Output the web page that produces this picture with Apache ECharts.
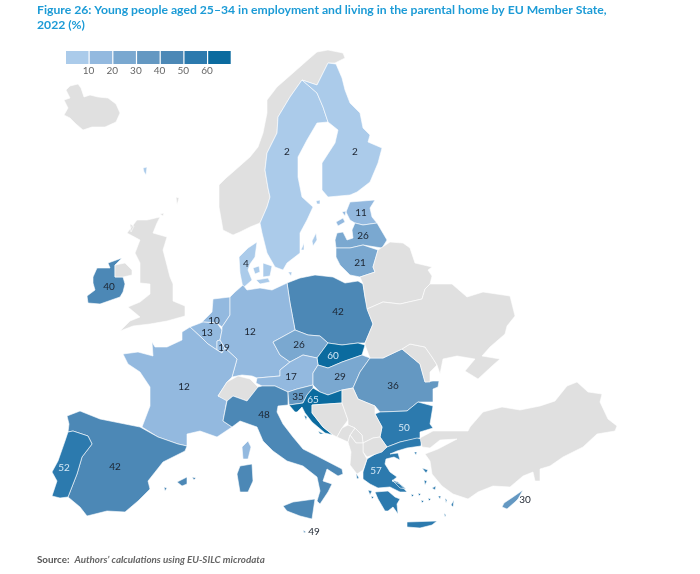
<!DOCTYPE html>
<html><head><meta charset="utf-8">
<style>html,body{margin:0;padding:0;background:#fff}#c{width:700px;height:574px}</style>
<script src="https://cdn.jsdelivr.net/npm/echarts@6/dist/echarts.min.js"></script>
</head><body><div id="c"></div>
<script>
const countries = ['Sweden','Finland','Estonia','Latvia','Lithuania','Denmark','Ireland','Poland','Netherlands','Belgium','Luxembourg','Germany','Czechia','Slovakia','Austria','Hungary','Slovenia','Croatia','Italy','France','Spain','Portugal','Romania','Bulgaria','Greece','Cyprus','Malta'];
const shares = [2,2,11,26,21,4,40,42,10,13,19,12,26,60,17,29,35,65,48,12,42,52,36,50,57,30,49];
const scaleBounds = [0,10,20,30,40,50,60,70];
const scaleColors = ['#abcbea','#93b9df','#7aa8d0','#6498c2','#4c88b6','#2c7aae','#0b6b9f'];
const tickLabels = ['10','20','30','40','50','60'];
const titleText = 'Figure 26: Young people aged 25–34 in employment and living in the parental home by EU Member State,\n2022 (%)';
const sourceLead = 'Source:';
const sourceBody = 'Authors’ calculations using EU-SILC microdata';

// Outline geometry of the base map, in map units. [label anchor, rings...]
const outlines = {
 Iceland:[null,[[66,90],[70,86],[78,84],[81,88],[84,97],[90,95],[98,97],[108,98],[116,104],[120,113],[116,122],[105,127],[92,127],[83,130],[76,124],[70,118],[64,115],[68,108],[64,100],[70,98]]],
 Norway:[null,[[302,80],[290,97],[278,117],[277,133],[267,153],[265,170],[268,188],[270,197],[267,207],[260,223],[250,227],[240,232],[233,235],[223,230],[219,207],[219,185],[226,178],[233,172],[250,157],[258,147],[263,133],[267,113],[267,100],[277,87],[285,80],[293,73],[310,58],[317,52],[328,50],[343,53],[345,58],[335,63],[328,63],[317,85]]],
 Sweden:[[287,152],[[302,80],[290,97],[278,117],[277,133],[267,153],[265,170],[268,188],[270,197],[267,207],[260,223],[262,233],[267,253],[275,267],[283,270],[287,263],[300,253],[300,233],[307,220],[313,207],[302,197],[298,177],[298,157],[307,140],[317,123],[328,122],[323,107],[317,93]],[[312,241],[316,233],[317,240],[313,246]],[[301,250],[304,243],[304,250]]],
 Finland:[[355,152],[[302,80],[317,85],[328,63],[336,64],[342,78],[345,90],[350,103],[360,113],[363,128],[370,135],[368,142],[382,148],[378,163],[370,182],[357,192],[350,195],[328,197],[322,190],[322,177],[322,163],[335,143],[338,130],[328,122],[323,107],[317,93]],[[316,201],[320,200],[320,204],[317,204]]],
 Estonia:[[361,213],[[350,202],[375,200],[370,208],[372,217],[377,223],[363,225],[355,223],[350,220],[346,212]],[[336,222],[343,218],[345,222],[338,226]],[[342,212],[346,211],[345,216]]],
 Latvia:[[363,236],[[355,223],[363,225],[377,223],[387,240],[382,248],[363,245],[350,248],[336,248],[335,240],[337,233],[343,232],[347,240],[353,238],[352,230]]],
 Lithuania:[[360,263],[[350,248],[363,245],[378,250],[373,267],[375,272],[360,277],[350,275],[340,265],[336,257],[336,248]]],
 Denmark:[[246,264],[[239,257],[248,248],[257,242],[255,257],[250,264],[248,270],[252,280],[243,288],[240,273]],[[253,268],[259,266],[260,272],[255,274]],[[263,263],[272,266],[270,276],[263,277]],[[256,280],[268,278],[270,282],[260,284]],[[288,272],[292,272],[291,276]],[[143,168],[147,167],[146,175],[144,172]]],
 Ireland:[[109,287],[[97,268],[110,268],[108,263],[122,258],[115,265],[115,277],[123,277],[125,284],[123,292],[120,297],[100,304],[88,303],[87,296],[95,290],[93,283],[93,277]]],
 NorthernIreland:[null,[[115,265],[125,263],[132,270],[132,275],[123,277],[115,277]]],
 GreatBritain:[null,[[137,220],[147,220],[160,217],[157,223],[153,233],[167,237],[163,250],[170,277],[173,284],[173,301],[185,306],[185,316],[167,321],[150,324],[133,326],[120,331],[130,321],[140,317],[128,307],[140,302],[150,294],[150,284],[140,283],[140,263],[135,253],[140,240],[127,233]],[[176,197],[179,198],[177,205]],[[160,214],[164,213],[163,216]],[[130,224],[134,226],[131,232]]],
 Poland:[[338,312],[[295,330],[308,335],[320,336],[328,343],[342,345],[358,343],[365,343],[373,324],[368,311],[365,297],[363,284],[358,281],[345,283],[333,277],[315,275],[300,278],[287,283],[290,303]]],
 Netherlands:[[214,321],[[230,297],[213,299],[212,312],[200,324],[203,322],[217,323],[222,327],[230,315]]],
 Belgium:[[207,333],[[190,327],[203,322],[217,323],[222,330],[220,340],[217,341],[217,350],[208,344],[203,339]]],
 Luxembourg:[[224,348],[[217,341],[220,340],[225,348],[222,353],[217,350]]],
 Germany:[[250,332],[[243,285],[247,290],[260,288],[272,290],[287,283],[290,303],[295,330],[273,342],[280,355],[290,362],[280,370],[280,376],[257,378],[252,376],[242,375],[232,377],[237,359],[225,348],[220,340],[222,330],[222,327],[230,315],[230,297],[235,292]]],
 France:[[184,387],[[190,327],[182,332],[182,340],[167,347],[155,347],[152,342],[153,356],[138,352],[123,354],[128,364],[140,372],[150,387],[150,406],[142,427],[158,437],[178,444],[187,446],[187,434],[200,431],[217,437],[232,427],[223,421],[227,399],[218,396],[227,382],[232,377],[237,359],[225,348],[222,353],[217,350],[208,344],[203,339]],[[248,441],[251,447],[248,459],[243,459],[242,447]]],
 Switzerland:[null,[[218,396],[227,382],[238,376],[250,379],[258,387],[247,401],[233,396],[227,401]]],
 Czechia:[[299,345],[[273,342],[295,330],[308,335],[320,336],[328,343],[317,358],[303,355],[290,362],[280,355]]],
 Slovakia:[[333,356],[[317,358],[328,343],[342,345],[358,343],[365,345],[362,355],[342,362],[328,368],[318,365]]],
 Austria:[[291,377],[[280,370],[290,362],[303,355],[317,358],[318,365],[313,373],[313,385],[297,389],[288,392],[275,386],[262,386],[256,383],[257,378],[280,376]]],
 Hungary:[[340,377],[[313,373],[318,365],[328,368],[342,362],[362,355],[370,358],[360,372],[353,388],[342,390],[328,395],[320,392],[313,385]]],
 Romania:[[393,386],[[353,388],[360,372],[370,358],[383,358],[402,349],[420,364],[425,382],[433,381],[439,381],[438,387],[433,389],[433,402],[418,402],[407,411],[380,412],[375,406],[358,399]]],
 Bulgaria:[[404,428],[[380,412],[407,411],[418,402],[433,406],[430,424],[433,428],[420,432],[420,438],[400,442],[387,447],[380,437],[382,427],[375,414]]],
 Greece:[[376,471],[[417,438],[422,439],[421,446],[407,448],[397,451],[390,454],[398,453],[400,460],[394,457],[386,459],[385,464],[390,472],[397,477],[392,481],[400,484],[407,492],[400,492],[390,487],[378,488],[370,484],[363,479],[363,472],[367,459],[387,447],[400,442]],[[375,492],[388,491],[395,497],[400,499],[397,504],[398,514],[393,507],[388,511],[385,511],[378,499]],[[407,522],[437,521],[432,525],[420,528],[407,527]],[[392,480],[398,482],[406,489],[400,488]],[[422,468],[428,470],[426,473]],[[424,480],[427,481],[425,485]],[[451,505],[454,500],[453,507]],[[356,473],[359,478],[357,479]],[[368,490],[372,491],[370,495]],[[371,496],[374,497],[372,499]],[[414,452],[417,452],[416,455]],[[432,488],[436,486],[435,490]],[[411,494],[414,495],[412,497]],[[418,493],[421,494],[419,496]],[[421,500],[424,501],[422,503]],[[428,498],[431,499],[429,501]],[[438,496],[441,496],[440,499]],[[445,498],[447,500],[446,503]],[[444,513],[446,515],[445,517]]],
 Cyprus:[[525,500],[[502,507],[504,503],[513,497],[523,490],[518,499],[515,502],[507,509]]],
 Italy:[[264,415],[[227,401],[233,396],[247,401],[258,387],[262,386],[275,386],[288,392],[288,405],[278,406],[277,412],[283,424],[293,437],[303,449],[317,456],[342,469],[343,474],[338,476],[327,469],[323,481],[332,484],[328,492],[320,504],[317,501],[320,491],[317,477],[303,466],[287,461],[273,451],[263,441],[257,427],[240,421],[232,427],[223,421]],[[283,506],[293,502],[315,499],[312,519],[300,516],[287,511]],[[240,466],[252,464],[253,481],[248,492],[240,492],[237,474]]],
 Malta:[[314,532],[[303,530],[306,532],[304,533]]],
 Spain:[[115,467],[[67,416],[80,411],[100,419],[140,427],[158,437],[178,444],[187,446],[185,451],[163,462],[148,481],[150,489],[138,501],[125,512],[107,511],[87,516],[80,507],[68,497],[77,474],[82,457],[92,444],[88,436],[73,431],[68,432],[69,424]],[[177,482],[187,477],[187,484],[182,486]],[[192,477],[196,478],[194,480]],[[164,487],[167,488],[165,491]]],
 Portugal:[[64,468],[[68,432],[73,431],[88,436],[92,444],[82,457],[77,474],[68,497],[60,498],[52,496],[57,481],[52,472],[58,461],[65,441]]],
 Slovenia:[[298,397],[[288,392],[297,389],[313,385],[313,388],[307,395],[303,403],[289,405]]],
 Croatia:[[313,400],[[307,395],[313,388],[320,392],[328,395],[342,390],[342,403],[312,405],[312,413],[323,427],[333,435],[325,433],[312,422],[305,413],[302,407],[297,412],[295,412],[289,405],[303,403]],[[304,415],[307,417],[306,420]],[[318,431],[324,434],[320,434]]],
 Bosnia:[null,[[312,405],[342,403],[348,420],[342,428],[337,437],[333,435],[323,427],[312,413]]],
 Serbia:[null,[[342,390],[353,388],[358,399],[375,406],[375,414],[382,427],[380,437],[373,438],[363,443],[362,435],[355,428],[348,425],[348,420],[342,403]]],
 Kosovo:[null,[[355,428],[362,435],[363,443],[356,443],[350,435]]],
 Montenegro:[null,[[342,428],[348,425],[355,428],[350,435],[348,442],[337,437]]],
 Macedonia:[null,[[363,443],[373,438],[380,437],[387,447],[382,452],[367,457],[363,452]]],
 Albania:[null,[[348,442],[350,435],[356,443],[363,443],[363,452],[367,459],[363,470],[357,474],[350,465],[351,452]]],
 Turkey:[null,[[422,447],[420,438],[433,431],[468,431],[470,427],[483,412],[502,407],[520,410],[540,406],[555,401],[567,386],[577,382],[588,392],[602,394],[600,402],[608,419],[617,426],[615,431],[597,434],[583,447],[563,457],[550,466],[540,469],[540,481],[535,481],[533,472],[523,476],[510,487],[493,486],[478,492],[468,499],[453,494],[442,486],[432,474],[430,461],[425,454],[438,449],[457,439],[440,440],[430,448]]],
 Moldova:[null,[[402,349],[410,344],[425,347],[432,357],[437,365],[430,372],[430,382],[425,382],[420,364]]],
 Belarus:[null,[[363,284],[365,297],[367,309],[383,302],[400,304],[422,299],[425,289],[430,284],[432,276],[428,270],[432,267],[415,263],[410,248],[403,243],[390,242],[378,250],[373,267],[375,272],[360,277]]],
 Ukraine:[null,[[367,309],[383,302],[400,304],[422,299],[425,289],[430,284],[452,284],[467,297],[483,292],[510,296],[515,316],[507,326],[505,334],[490,347],[482,356],[500,359],[492,366],[478,379],[465,371],[475,359],[457,356],[443,359],[440,374],[437,365],[432,357],[425,347],[410,344],[402,349],[383,358],[370,358],[365,345],[365,343],[373,324]]]
};

const features = Object.keys(outlines).map(name => {
  const [anchor, ...rings] = outlines[name];
  const properties = {name};
  if (anchor) properties.cp = anchor;
  return {type:'Feature', properties, geometry:{type:'MultiPolygon', coordinates:rings.map(r => [r])}};
});
echarts.registerMap('eu', {type:'FeatureCollection', features});

const flat = {project: p => [p[0], p[1]], unproject: p => [p[0], p[1]]};
const pieces = scaleColors.map((color,i) => ({gte:scaleBounds[i], lt:scaleBounds[i+1], color}));
const seriesData = countries.map((name,i) => ({
  name, value:shares[i],
  label:{color: shares[i] >= 50 ? '#d4e8f6' : '#1c2430'}
}));
const FONT = 'Lato';
const chart = echarts.init(document.getElementById('c'), null, {renderer:'canvas'});
chart.setOption({
  animation:false,
  backgroundColor:'#fff',
  title:[{
    text:titleText, left:37, top:3, padding:0,
    textStyle:{fontFamily:FONT, fontSize:12.2, fontWeight:700, color:'#1c9bd6', lineHeight:15}
  },{
    text:'{b|'+sourceLead+'} {i|'+sourceBody+'}', left:37, top:551, padding:0,
    textStyle:{rich:{
      b:{fontFamily:FONT, fontSize:9.8, fontWeight:700, color:'#555'},
      i:{fontFamily:FONT, fontSize:9.8, fontStyle:'italic', color:'#666'}
    }}
  }],
  visualMap:{
    type:'piecewise', orient:'horizontal', left:66, top:51, pieces,
    itemWidth:22.5, itemHeight:13, itemGap:1.2, itemSymbol:'rect',
    showLabel:false, selectedMode:false, padding:0, hoverLink:false, seriesIndex:0
  },
  graphic:tickLabels.map((t,i) => ({
    type:'text', x:88.5+i*23.7, y:71, silent:true,
    style:{text:t, align:'center', verticalAlign:'middle', fontFamily:FONT, fontSize:10, fill:'#666'}
  })),
  series:[{
    type:'map', map:'eu', projection:flat,
    boundingCoords:[[0,0],[700,574]], left:0, top:0, width:700, height:574,
    roam:false, silent:true, selectedMode:false, data:seriesData,
    itemStyle:{areaColor:'#e0e0e0', borderColor:'#fff', borderWidth:0.6},
    emphasis:{disabled:true},
    label:{show:true, fontFamily:FONT, fontSize:10,
      formatter:p => isNaN(p.value) ? '' : String(p.value)}
  }]
});
</script></body></html>
